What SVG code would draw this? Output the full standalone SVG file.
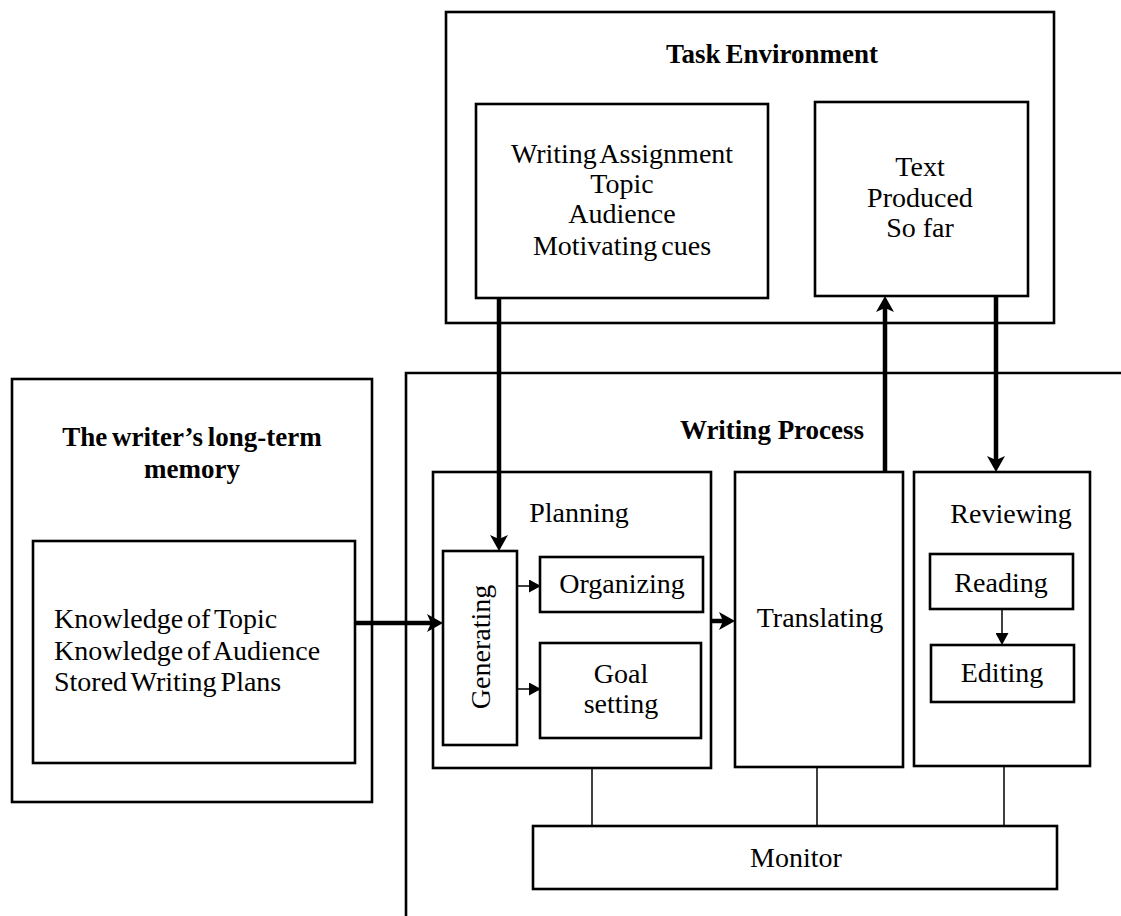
<svg xmlns="http://www.w3.org/2000/svg" width="1121" height="916" viewBox="0 0 1121 916">
<style>
  .box { fill: none; stroke: #000; stroke-width: 2.6; }
  .t { font-family: "Liberation Serif", "Times New Roman", serif; font-size: 28px; fill: #000; text-anchor: middle; }
  .l { text-anchor: start; }
  .tb { font-family: "Liberation Serif", "Times New Roman", serif; font-size: 27px; font-weight: bold; fill: #000; text-anchor: middle; }
  .thick { stroke: #000; stroke-width: 4.5; fill: none; }
  .thin { stroke: #000; stroke-width: 1.5; fill: none; }
</style>
<defs>
  <marker id="ah" markerUnits="userSpaceOnUse" markerWidth="16" markerHeight="18" viewBox="0 0 16 18" refX="10" refY="9" orient="auto">
    <path d="M0,0 L16,9 L0,18 L4,9 Z" fill="#000"/>
  </marker>
  <marker id="as" markerUnits="userSpaceOnUse" markerWidth="12" markerHeight="13" viewBox="0 0 12 13" refX="6" refY="6.5" orient="auto">
    <path d="M0,0 L12,6.5 L0,13 Z" fill="#000"/>
  </marker>
</defs>
<rect width="1121" height="916" fill="#fff"/>

<g id="task-environment">
  <rect class="box" x="446" y="12" width="608" height="311"/>
  <text class="tb" x="772" y="63" word-spacing="-2">Task Environment</text>
</g>
<g id="writing-assignment">
  <rect class="box" x="476" y="104" width="292" height="194"/>
  <text class="t" x="622" y="163" word-spacing="-3">Writing Assignment</text>
  <text class="t" x="622" y="193">Topic</text>
  <text class="t" x="622" y="223">Audience</text>
  <text class="t" x="622" y="255" word-spacing="-3">Motivating cues</text>
</g>
<g id="text-produced">
  <rect class="box" x="815" y="102" width="213" height="194"/>
  <text class="t" x="920" y="176">Text</text>
  <text class="t" x="920" y="207">Produced</text>
  <text class="t" x="920" y="237">So far</text>
</g>

<g id="long-term-memory">
  <rect class="box" x="12" y="379" width="360" height="423"/>
  <text class="tb" x="192" y="446" word-spacing="-2">The writer’s long-term</text>
  <text class="tb" x="192" y="478">memory</text>
</g>
<g id="knowledge">
  <rect class="box" x="33" y="541" width="322" height="222"/>
  <text class="t l" x="54" y="628" word-spacing="-3">Knowledge of Topic</text>
  <text class="t l" x="54" y="660" word-spacing="-3">Knowledge of Audience</text>
  <text class="t l" x="54" y="691" word-spacing="-3">Stored Writing Plans</text>
</g>

<g id="writing-process">
  <path class="box" d="M1121,373 H406 V916"/>
  <text class="tb" x="772" y="439">Writing Process</text>
</g>
<g id="planning">
  <rect class="box" x="433" y="472" width="278" height="296"/>
  <text class="t" x="579" y="522">Planning</text>
</g>
<g id="generating">
  <rect class="box" x="443" y="551" width="74" height="194"/>
  <text class="t" transform="translate(490,647) rotate(-90)" x="0" y="0">Generating</text>
</g>
<g id="organizing">
  <rect class="box" x="540" y="557" width="163" height="55"/>
  <text class="t" x="622" y="593">Organizing</text>
</g>
<g id="goal-setting">
  <rect class="box" x="540" y="643" width="161" height="95"/>
  <text class="t" x="621" y="683">Goal</text>
  <text class="t" x="621" y="713">setting</text>
</g>
<g id="translating">
  <rect class="box" x="735" y="472" width="168" height="295"/>
  <text class="t" x="820" y="627">Translating</text>
</g>
<g id="reviewing">
  <rect class="box" x="914" y="472" width="176" height="294"/>
  <text class="t" x="1011" y="523">Reviewing</text>
</g>
<g id="reading">
  <rect class="box" x="930" y="554" width="143" height="55"/>
  <text class="t" x="1001" y="592">Reading</text>
</g>
<g id="editing">
  <rect class="box" x="931" y="645" width="143" height="57"/>
  <text class="t" x="1002" y="682">Editing</text>
</g>
<g id="monitor">
  <rect class="box" x="533" y="826" width="524" height="63"/>
  <text class="t" x="796" y="867">Monitor</text>
</g>

<g id="connectors">
  <line class="thick" x1="499" y1="298" x2="499" y2="545" marker-end="url(#ah)"/>
  <line class="thick" x1="885" y1="472" x2="885" y2="302" marker-end="url(#ah)"/>
  <line class="thick" x1="996" y1="296" x2="996" y2="466" marker-end="url(#ah)"/>
  <line class="thick" x1="355" y1="623" x2="437" y2="623" marker-end="url(#ah)"/>
  <line class="thick" x1="711" y1="621" x2="729" y2="621" marker-end="url(#ah)"/>
  <line class="thin" x1="517" y1="586" x2="535" y2="586" marker-end="url(#as)"/>
  <line class="thin" x1="517" y1="689" x2="535" y2="689" marker-end="url(#as)"/>
  <line class="thin" x1="1002" y1="609" x2="1002" y2="639" marker-end="url(#as)"/>
  <line class="thin" x1="592" y1="768" x2="592" y2="826"/>
  <line class="thin" x1="817" y1="767" x2="817" y2="826"/>
  <line class="thin" x1="1004" y1="766" x2="1004" y2="826"/>
</g>
</svg>
